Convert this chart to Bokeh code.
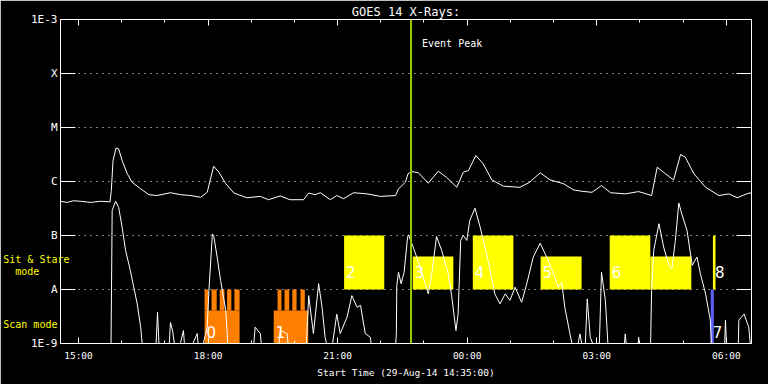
from bokeh.plotting import figure
from bokeh.models import (Range1d, FixedTicker, LinearAxis, LogAxis, Span, Label,
                          CustomJSTickFormatter, ColumnDataSource)
from bokeh.core.properties import value
from bokeh.embed import file_html
from bokeh.resources import INLINE

MONO = "DejaVu Sans Mono"

# ---------------- data (time = hours since 00:00 29-Aug-14) ----------------
t_first, t_last = 14.5833, 30.5833
hour_ticks = [15, 18, 21, 24, 27, 30]
hour_tick_labels = ["15:00", "18:00", "21:00", "00:00", "03:00", "06:00"]
hour_minor = list(range(15, 31))
level_exps = [-9, -8, -7, -6, -5, -4, -3]
level_names = ["1E-9", "A", "B", "C", "M", "X", "1E-3"]
grid_levels = [1e-8, 1e-7, 1e-6, 1e-5, 1e-4]
event_peak = 22.70
mode_names = ["Scan mode\u00a0\u00a0", "\u00a0\u00a0mode\u00a0\u00a0\u00a0\u00a0\u00a0", "Sit & Stare"]
mode_name_levels = [2.25e-9, 2.15e-8, 3.6e-8]

# GOES 1-8 A flux
long_t = [14.58, 14.74, 14.88, 15.05, 15.28, 15.51, 15.73, 15.76, 15.80, 15.87,
          15.93, 16.01, 16.13, 16.24, 16.44, 16.63, 16.82, 17.13, 17.36, 17.60,
          17.83, 17.98, 18.13, 18.25, 18.41, 18.60, 18.90, 19.21, 19.40, 19.67,
          19.90, 20.21, 20.33, 20.48, 20.60, 20.83, 20.98, 21.14, 21.37, 21.68,
          21.99, 22.34, 22.41, 22.57, 22.63, 22.71, 22.87, 23.10, 23.33, 23.52,
          23.76, 23.91, 24.03, 24.20, 24.37, 24.57, 24.84, 25.22, 25.45, 25.69,
          25.92, 26.23, 26.46, 26.65, 26.89, 27.11, 27.32, 27.66, 27.97, 28.27,
          28.40, 28.59, 28.78, 28.94, 29.05, 29.25, 29.52, 29.83, 30.06, 30.25,
          30.52, 30.59]
long_flux = [4.3e-7, 4.1e-7, 4.4e-7, 4.3e-7, 4.1e-7, 4.3e-7, 4.2e-7, 6.8e-7, 2.45e-6, 4.2e-6,
             4.0e-6, 2.45e-6, 1.39e-6, 9.7e-7, 7.3e-7, 5.7e-7, 5.5e-7, 6.2e-7, 5.7e-7, 5.5e-7,
             5.1e-7, 6.3e-7, 1.92e-6, 1.49e-6, 9.1e-7, 6.1e-7, 5.0e-7, 5.3e-7, 4.6e-7, 5.4e-7,
             4.6e-7, 4.6e-7, 6.1e-7, 5.7e-7, 6.2e-7, 4.6e-7, 5.5e-7, 4.8e-7, 6.2e-7, 5.9e-7,
             5.3e-7, 5.5e-7, 7.3e-7, 9.7e-7, 1.39e-6, 1.53e-6, 1.45e-6, 9.3e-7, 1.55e-6, 1.2e-6,
             7.8e-7, 1.49e-6, 1.6e-6, 3.03e-6, 2.13e-6, 1.07e-6, 8.2e-7, 7.8e-7, 9.7e-7, 1.45e-6,
             1.07e-6, 9.1e-7, 7.0e-7, 6.6e-7, 6.3e-7, 8.4e-7, 6.2e-7, 5.9e-7, 6.5e-7, 5.5e-7,
             1.84e-6, 1.39e-6, 1.07e-6, 3.16e-6, 2.82e-6, 1.39e-6, 7.8e-7, 5.5e-7, 5.9e-7, 5.0e-7,
             6.1e-7, 6.1e-7]

# GOES 0.5-4 A flux (5e-10 = below plot floor)
short_t = [14.58, 15.75, 15.78, 15.86, 15.93, 16.01, 16.09, 16.20, 16.28, 16.36,
           16.44, 16.51, 16.78, 16.83, 16.88, 17.08, 17.13, 17.18, 17.27, 17.43,
           17.48, 17.75, 17.80, 17.98, 18.02, 18.10, 18.13, 18.21, 18.29, 18.41,
           18.48, 19.03, 19.09, 19.21, 19.27, 19.61, 19.67, 19.83, 19.89, 20.26,
           20.33, 20.44, 20.56, 20.64, 20.71, 20.83, 20.98, 21.06, 21.22, 21.33,
           21.45, 21.53, 21.64, 21.76, 21.81, 22.32, 22.36, 22.37, 22.41, 22.47,
           22.54, 22.62, 22.64, 22.75, 22.91, 23.10, 23.18, 23.29, 23.41, 23.56,
           23.64, 23.74, 23.79, 23.85, 23.91, 23.99, 24.06, 24.18, 24.30, 24.45,
           24.64, 24.76, 24.88, 24.99, 25.11, 25.26, 25.38, 25.53, 25.69, 25.84,
           26.00, 26.11, 26.19, 26.26, 26.38, 26.50, 26.61, 26.72, 26.78, 26.85,
           27.05, 27.11, 27.20, 27.28, 27.61, 27.66, 27.72, 27.93, 27.97, 28.02,
           28.24, 28.27, 28.32, 28.44, 28.55, 28.67, 28.74, 28.82, 28.90, 28.97,
           29.09, 29.21, 29.32, 29.40, 29.52, 29.63, 29.67, 29.95, 29.98, 30.02,
           30.27, 30.29, 30.41, 30.52, 30.59]
short_flux = [5e-10, 5e-10, 2.9e-7, 4.3e-7, 3.3e-7, 1.43e-7, 5.3e-8, 2.25e-8, 1.1e-8, 5.4e-9,
              2.0e-9, 5e-10, 5e-10, 3.8e-9, 5e-10, 5e-10, 2.45e-9, 1.7e-9, 5e-10, 1.74e-9,
              5e-10, 1.53e-9, 5e-10, 2.0e-9, 9.6e-9, 1.07e-7, 1.0e-7, 4.0e-8, 1.47e-8, 4.1e-9,
              5e-10, 5e-10, 2.0e-9, 1.53e-9, 5e-10, 5e-10, 1.74e-9, 1.53e-9, 5e-10, 5e-10,
              7.7e-9, 1.53e-9, 1.28e-8, 4.7e-9, 1.3e-9, 5e-10, 3.5e-9, 1.53e-9, 3.1e-9, 7.7e-9,
              4.7e-9, 5.1e-9, 1.53e-9, 1.3e-9, 5e-10, 5e-10, 1.53e-9, 1.19e-8, 2.09e-8, 1.28e-8,
              2.09e-8, 9.3e-8, 1.03e-7, 6.1e-8, 2.6e-8, 8.3e-9, 1.95e-8, 9.6e-8, 5.3e-8, 1.95e-8,
              7.7e-9, 1.74e-9, 3.5e-9, 8.1e-8, 1.0e-7, 8.1e-8, 1.9e-7, 3.2e-7, 1.43e-7, 4.6e-8,
              8.3e-9, 5.4e-9, 8.3e-9, 6.3e-9, 1.1e-8, 5.8e-9, 1.28e-8, 4.0e-8, 7.2e-8, 4.0e-8,
              1.95e-8, 1.1e-8, 1.36e-8, 4.7e-9, 1.51e-9, 5e-10, 1.51e-9, 5e-10, 6.7e-9, 1.3e-9,
              5e-10, 2.09e-8, 6.3e-9, 5e-10, 5e-10, 1.51e-9, 5e-10, 5e-10, 1.3e-9, 5e-10,
              5e-10, 9.6e-9, 5.3e-8, 1.65e-7, 6.1e-8, 2.8e-8, 2.4e-8, 8.1e-8, 4.0e-7, 2.5e-7,
              1.24e-7, 2.8e-8, 4.0e-8, 1.95e-8, 8.3e-9, 2.7e-9, 5e-10, 5e-10, 2.7e-9, 5e-10,
              5e-10, 2.7e-9, 3.5e-9, 2.0e-9, 5e-10]

# Scan-mode observations (orange)
scan_start = [17.92, 19.52]
scan_end = [18.73, 20.32]
scan_labels = ["0", "1"]
scan_base_top = 4.1e-9
tooth_start = [17.92, 18.08, 18.27, 18.44, 18.61, 19.61, 19.77, 19.95, 20.14]
tooth_end = [18.01, 18.20, 18.38, 18.54, 18.73, 19.70, 19.88, 20.05, 20.24]
tooth_top = 1e-8

# Sit & Stare observations (yellow)
sit_start = [21.15, 22.74, 24.13, 25.70, 27.30, 28.24, 29.69]
sit_end = [22.08, 23.68, 25.07, 26.65, 28.24, 29.19, 29.75]
sit_top = [1e-7, 4.1e-8, 1e-7, 4.1e-8, 1e-7, 4.1e-8, 1e-7]
sit_labels = ["2", "3", "4", "5", "6", "", "8"]
sit_bottom = 1e-8

# other observation (blue)
other_start = [29.64]
other_end = [29.71]
other_top = [1e-8]
other_labels = ["7"]

floor_flux = 1e-9
scan_label_y = 1.6e-9
sit_label_y = 2.1e-8

# ---------------- figure ----------------
p = figure(width=768, height=384, title=None,
           x_range=Range1d(t_first, t_last), y_range=Range1d(1e-9, 1e-3),
           y_axis_type="log", output_backend="svg", toolbar_location=None,
           min_border_left=60, min_border_right=17, min_border_top=19, min_border_bottom=41,
           background_fill_color="black", border_fill_color="black",
           outline_line_color=None)

p.xgrid.visible = False
p.ygrid.ticker = FixedTicker(ticks=grid_levels)
p.ygrid.grid_line_color = "white"
p.ygrid.grid_line_dash = "1 5"
p.ygrid.grid_line_width = 1

# observation blocks
p.quad(left=scan_start, right=scan_end, bottom=[floor_flux] * len(scan_start),
       top=[scan_base_top] * len(scan_start), fill_color="#ff8000", line_color=None)
p.quad(left=tooth_start, right=tooth_end, bottom=[scan_base_top] * len(tooth_start),
       top=[tooth_top] * len(tooth_start), fill_color="#ff8000", line_color=None)
p.quad(left=sit_start, right=sit_end, bottom=[sit_bottom] * len(sit_start),
       top=sit_top, fill_color="#ffff00", line_color=None)
p.quad(left=other_start, right=other_end, bottom=[floor_flux] * len(other_start),
       top=other_top, fill_color="#6060ff", line_color=None)

# flux curves
p.line(long_t, long_flux, line_color="white", line_width=1)
p.line(short_t, short_flux, line_color="white", line_width=1)

# observation numbers
lab_src = ColumnDataSource(dict(
    x=scan_start + sit_start + other_start,
    y=[scan_label_y] * len(scan_start) + [sit_label_y] * len(sit_start) + [scan_label_y] * len(other_start),
    t=scan_labels + sit_labels + other_labels))
p.text(x="x", y="y", text="t", source=lab_src, x_offset=2, text_color="white",
       text_font=value("DejaVu Sans"), text_font_size="15px", text_baseline="middle",
       text_align="left")

# event peak
p.add_layout(Span(location=event_peak, dimension="height", line_color="#99cc00", line_width=2))
p.add_layout(Label(x=event_peak, y=3.6e-4, x_offset=11, text="Event Peak", text_color="white",
                   text_font=MONO, text_font_size="10px", text_baseline="middle"))

# axes styling
def style_axis(ax):
    ax.axis_line_color = "white"
    ax.major_tick_line_color = "white"
    ax.minor_tick_line_color = "white"
    ax.major_label_text_color = "white"
    ax.major_label_text_font = MONO
    ax.axis_label_text_color = "white"
    ax.axis_label_text_font = MONO
    ax.axis_label_text_font_style = "normal"

blank = CustomJSTickFormatter(code='return "";')

xb = p.xaxis[0]
style_axis(xb)
xb.ticker = FixedTicker(ticks=hour_ticks, minor_ticks=hour_minor)
xb.major_label_overrides = dict(zip(hour_ticks, hour_tick_labels))
xb.major_tick_in, xb.major_tick_out = 6, 0
xb.minor_tick_in, xb.minor_tick_out = 3, 0
xb.major_label_text_font_size = "9.5px"
xb.major_label_standoff = 6
xb.axis_label = "Start Time (29-Aug-14 14:35:00)"
xb.axis_label_text_font_size = "9.5px"
xb.axis_label_standoff = 3

yl = p.yaxis[0]
style_axis(yl)
yl.ticker = FixedTicker(ticks=[10.0 ** e for e in level_exps], minor_ticks=[])
yl.formatter = CustomJSTickFormatter(args=dict(exps=level_exps, names=level_names), code="""
    const i = exps.indexOf(Math.round(Math.log10(tick)));
    return i >= 0 ? names[i] : "";
""")
yl.major_tick_in, yl.major_tick_out = 15, 0
yl.minor_tick_line_color = None
yl.major_label_text_font_size = "11px"
yl.major_label_standoff = 3

# top axis: ticks only, carries the title
top_ax = LinearAxis(ticker=FixedTicker(ticks=hour_ticks, minor_ticks=hour_minor), formatter=blank)
style_axis(top_ax)
top_ax.major_tick_in, top_ax.major_tick_out = 6, 0
top_ax.minor_tick_in, top_ax.minor_tick_out = 3, 0
top_ax.major_label_text_font_size = "1px"
top_ax.major_label_standoff = 0
top_ax.axis_label = "GOES 14 X-Rays:"
top_ax.axis_label_text_font_size = "12px"
top_ax.axis_label_standoff = 1
p.add_layout(top_ax, "above")

right_ax = LogAxis(ticker=FixedTicker(ticks=[10.0 ** e for e in level_exps], minor_ticks=[]),
                   formatter=blank)
style_axis(right_ax)
right_ax.major_tick_in, right_ax.major_tick_out = 15, 0
right_ax.minor_tick_line_color = None
right_ax.major_label_text_font_size = "1px"
right_ax.major_label_standoff = 0
p.add_layout(right_ax, "right")

# yellow mode names: an outer label-only axis, pulled inward by a negative standoff
mode_ax = LogAxis(ticker=FixedTicker(ticks=mode_name_levels, minor_ticks=[]),
                  formatter=CustomJSTickFormatter(args=dict(lv=mode_name_levels, names=mode_names), code="""
    for (let i = 0; i < lv.length; i++) {
        if (Math.abs(Math.log10(tick) - Math.log10(lv[i])) < 1e-3) return names[i];
    }
    return "";
"""))
mode_ax.axis_line_color = None
mode_ax.major_tick_line_color = None
mode_ax.minor_tick_line_color = None
mode_ax.major_tick_in, mode_ax.major_tick_out = 0, 0
mode_ax.major_label_standoff = -41
mode_ax.major_label_text_color = "#ffff00"
mode_ax.major_label_text_font = MONO
mode_ax.major_label_text_font_size = "10px"
p.add_layout(mode_ax, "left")

open("out.html", "w").write(file_html(p, INLINE))
